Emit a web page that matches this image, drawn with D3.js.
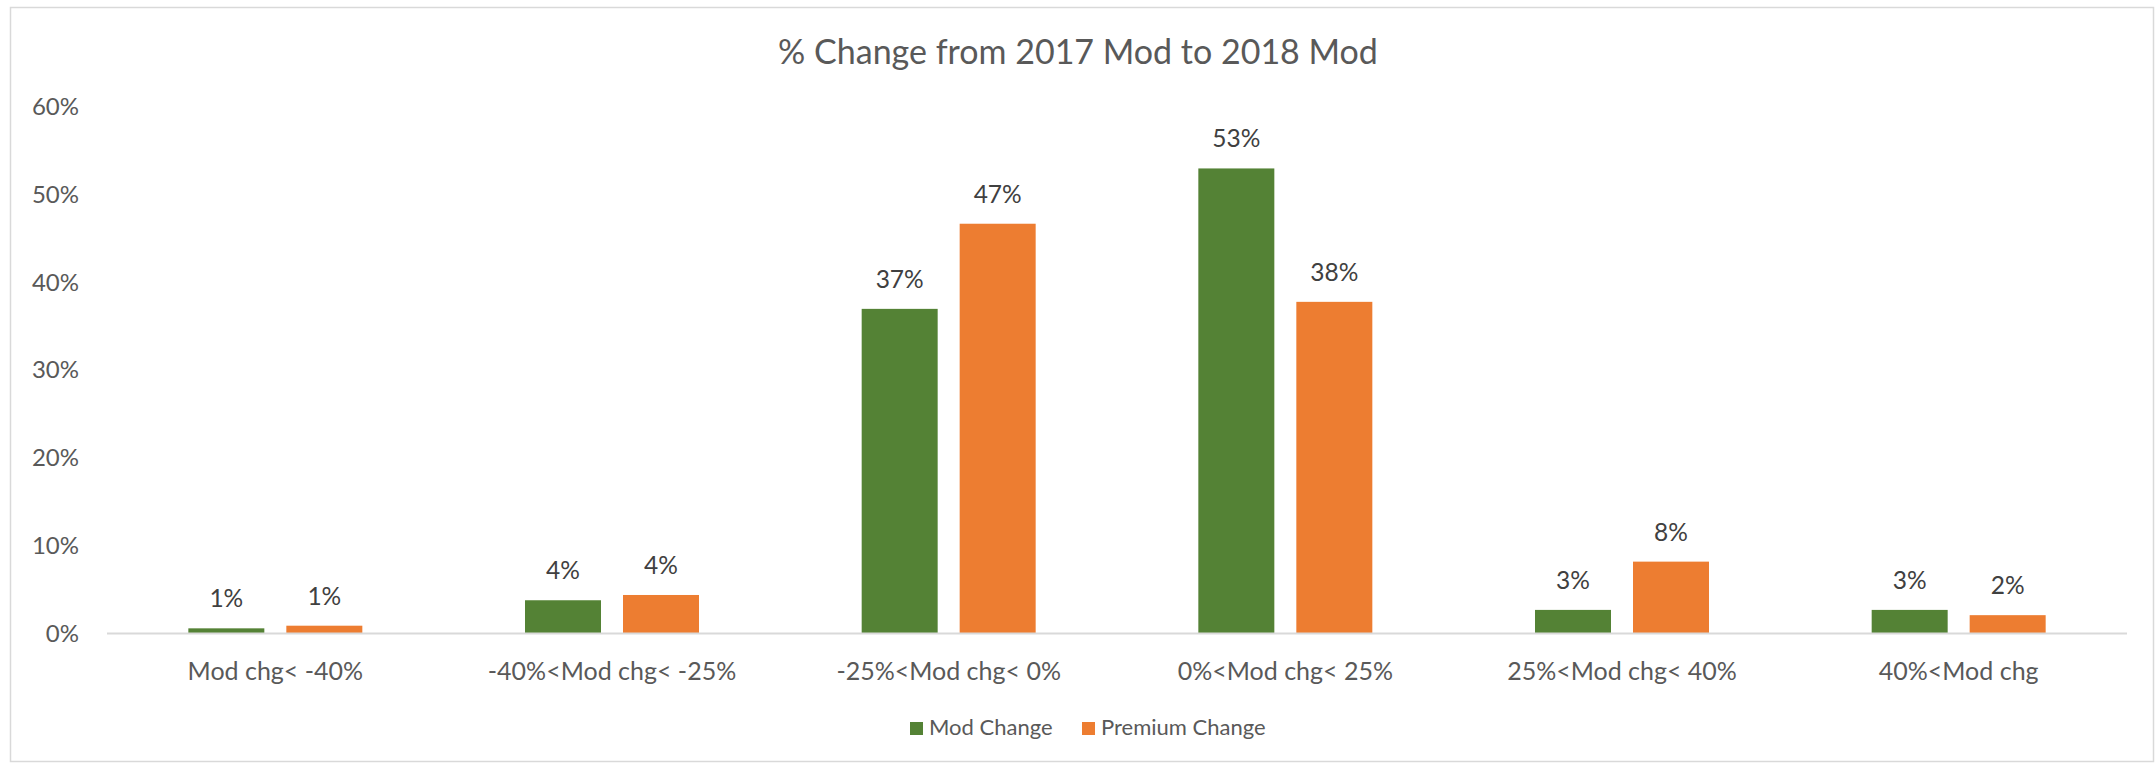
<!DOCTYPE html>
<html>
<head>
<meta charset="utf-8">
<script src="https://cdn.jsdelivr.net/npm/d3@7"></script>
<style>
  html, body { margin: 0; padding: 0; background: #fff; }
  svg { display: block; font-family: Lato, "Open Sans", sans-serif; }
</style>
</head>
<body>
<svg id="chart" width="2155" height="763"></svg>
<script>
const title = "% Change from 2017 Mod to 2018 Mod";
const categories = ["Mod chg< -40%", "-40%<Mod chg< -25%", "-25%<Mod chg< 0%", "0%<Mod chg< 25%", "25%<Mod chg< 40%", "40%<Mod chg"];
const seriesNames = ["Mod Change", "Premium Change"];
const modChange = [0.006, 0.038, 0.370, 0.530, 0.027, 0.027];
const premiumChange = [0.009, 0.044, 0.467, 0.378, 0.082, 0.021];
const modLabels = ["1%", "4%", "37%", "53%", "3%", "3%"];
const premiumLabels = ["1%", "4%", "47%", "38%", "8%", "2%"];
const yTicks = [0, 0.1, 0.2, 0.3, 0.4, 0.5, 0.6];
const colors = ["#548235", "#ED7D31"];

const svg = d3.select("#chart");

// outer chart border
svg.append("rect")
  .attr("x", 10.5).attr("y", 7.5)
  .attr("width", 2143).attr("height", 754)
  .attr("fill", "none").attr("stroke", "#d9d9d9").attr("stroke-width", 1.5);

const x0 = d3.scaleBand().domain(categories).range([107, 2127]).paddingInner(0).paddingOuter(0);
const x1 = d3.scaleBand().domain(seriesNames).range([0, x0.bandwidth()]).paddingInner(0.2245).paddingOuter(0.83);
const y = d3.scaleLinear().domain([0, 0.6]).range([633.6, 107]);

// title
svg.append("text")
  .attr("x", 1078).attr("y", 64)
  .attr("text-anchor", "middle")
  .attr("fill", "#595959")
  .attr("font-size", 34)
  .text(title);

// y axis (labels only)
const yAxis = d3.axisLeft(y).tickValues(yTicks).tickFormat(d3.format(".0%")).tickSize(0).tickPadding(0);
const yg = svg.append("g").attr("transform", "translate(79,0)").call(yAxis);
yg.select(".domain").remove();
yg.selectAll("text").attr("fill", "#595959").attr("font-size", 24).attr("font-family", "Lato, 'Open Sans', sans-serif");

// bars
const data = categories.map((c, i) => ({
  cat: c,
  values: [
    { s: seriesNames[0], v: modChange[i], label: modLabels[i] },
    { s: seriesNames[1], v: premiumChange[i], label: premiumLabels[i] }
  ]
}));

const groups = svg.append("g").selectAll("g").data(data).join("g")
  .attr("transform", d => `translate(${x0(d.cat)},0)`);

groups.selectAll("rect").data(d => d.values).join("rect")
  .attr("x", d => x1(d.s))
  .attr("width", x1.bandwidth())
  .attr("y", d => y(d.v))
  .attr("height", d => y(0) - y(d.v))
  .attr("fill", (d, i) => colors[i]);

groups.selectAll("text").data(d => d.values).join("text")
  .attr("x", d => x1(d.s) + x1.bandwidth() / 2)
  .attr("y", d => y(d.v) - 21)
  .attr("text-anchor", "middle")
  .attr("fill", "#404040")
  .attr("font-size", 24.5)
  .text(d => d.label);

// baseline
svg.append("line")
  .attr("x1", x0.range()[0]).attr("x2", x0.range()[1])
  .attr("y1", y(0)).attr("y2", y(0))
  .attr("stroke", "#d9d9d9").attr("stroke-width", 2);

// x axis labels
const xAxis = d3.axisBottom(x0).tickSize(0).tickPadding(0);
const xg = svg.append("g").attr("transform", `translate(0,${y(0)})`).call(xAxis);
xg.select(".domain").remove();
xg.selectAll("text").attr("fill", "#595959").attr("font-size", 25)
  .attr("font-family", "Lato, 'Open Sans', sans-serif")
  .attr("dy", null).attr("y", 46);

// legend
const legendItems = [
  { name: seriesNames[0], color: colors[0], x: 910 },
  { name: seriesNames[1], color: colors[1], x: 1082 }
];
const lg = svg.append("g");
legendItems.forEach(it => {
  lg.append("rect").attr("x", it.x).attr("y", 722).attr("width", 13).attr("height", 13).attr("fill", it.color);
  lg.append("text").attr("x", it.x + 19).attr("y", 735).attr("fill", "#595959").attr("font-size", 22).text(it.name);
});
</script>
</body>
</html>
